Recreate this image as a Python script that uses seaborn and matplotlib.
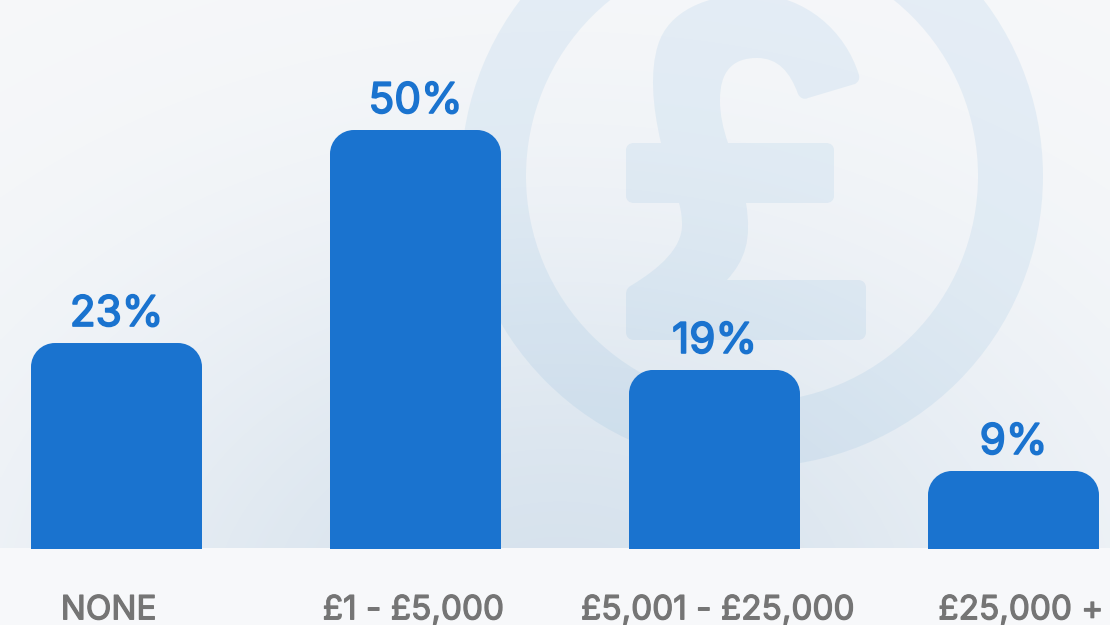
import numpy as np
import pandas as pd
import matplotlib
matplotlib.use("Agg")
import matplotlib.pyplot as plt
import matplotlib.patheffects as pe
from matplotlib.path import Path
from matplotlib.patches import PathPatch, Wedge
from matplotlib.transforms import IdentityTransform, Affine2D
import seaborn as sns

categories = ["NONE", "£1 - £5,000", "£5,001 - £25,000", "£25,000 +"]
percent_labels = ["23%", "50%", "19%", "9%"]
# bar heights as drawn in the picture (percent scale set by the 50% bar)
drawn_heights = [24.55, 50.0, 21.33, 9.26]

W, H = 1110, 625
BASE_Y = 548.5
TOP_Y = 130.0
BLUE = "#1a73cf"
GREY = "#757575"
PAGE = "#f7f8fa"

sns.set_theme(style="white")
plt.rcParams["font.family"] = ["Inter", "DejaVu Sans"]

fig = plt.figure(figsize=(W / 100, H / 100), dpi=100, facecolor=PAGE)

# background gradient above the baseline
bg = fig.add_axes([0, 0, 1, 1], zorder=0)
yy, xx = np.mgrid[0:BASE_Y:300j, 0:W:300j]
t = np.exp(-((xx - 560) / 520) ** 2 - ((yy - 620) / 380) ** 2)
c0 = np.array([0xf7, 0xf8, 0xfa]) / 255
c1 = np.array([0xd6, 0xe2, 0xed]) / 255
img = c0[None, None, :] + (c1 - c0)[None, None, :] * t[..., None]
bg.imshow(img, extent=[0, W, BASE_Y, 0], aspect="auto", interpolation="bilinear", zorder=0)
bg.set_xlim(0, W); bg.set_ylim(H, 0); bg.axis("off")

# watermark ring and pound sign
WM = "#1a7cc4"
A = 0.075
cx, cy, ro, ri = 752, 176, 291, 226
ring = Wedge((cx, cy), ro, 0, 360, width=ro - ri, fc=WM, ec="none", alpha=A, zorder=1)
bg.add_patch(ring)

M, L, C, Z = Path.MOVETO, Path.LINETO, Path.CURVE4, Path.CLOSEPOLY
pts = [
    (M, (661, 143)),
    (C, (652, 105)), (C, (650, 70)), (C, (658, 45)),
    (C, (668, 12)), (C, (705, -6)), (C, (755, -6)),
    (C, (805, -4)), (C, (845, 30)), (C, (859, 75)),
    (C, (860, 80)), (C, (858, 82)), (C, (855, 84)),
    (L, (808, 98)),
    (C, (804, 100)), (C, (800, 98)), (C, (798, 94)),
    (C, (790, 72)), (C, (778, 58)), (C, (757, 58)),
    (C, (732, 58)), (C, (720, 72)), (C, (720, 100)),
    (C, (720, 115)), (C, (723, 128)), (C, (728, 143)),
    (L, (826, 143)),
    (C, (831, 143)), (C, (834, 146)), (C, (834, 150)),
    (L, (834, 196)),
    (C, (834, 200)), (C, (831, 203)), (C, (826, 203)),
    (L, (746, 203)),
    (C, (752, 240)), (C, (745, 260)), (C, (727, 280)),
    (L, (858, 280)),
    (C, (863, 280)), (C, (866, 283)), (C, (866, 288)),
    (L, (866, 332)),
    (C, (866, 337)), (C, (863, 340)), (C, (858, 340)),
    (L, (634, 340)),
    (C, (629, 340)), (C, (626, 337)), (C, (626, 332)),
    (L, (626, 294)),
    (C, (626, 290)), (C, (628, 287)), (C, (632, 285)),
    (C, (660, 268)), (C, (682, 248)), (C, (682, 225)),
    (C, (682, 217)), (C, (681, 210)), (C, (679, 203)),
    (L, (634, 203)),
    (C, (629, 203)), (C, (626, 200)), (C, (626, 196)),
    (L, (626, 150)),
    (C, (626, 146)), (C, (629, 143)), (C, (634, 143)),
    (L, (661, 143)),
]
pound = PathPatch(Path([p[1] for p in pts], [p[0] for p in pts]),
                  fc=WM, ec="none", alpha=A, zorder=1)
bg.add_patch(pound)

# chart axes: spacing of 299 px between bar centres, baseline at y=548.5
ax = fig.add_axes([0, (H - BASE_Y) / H, 1, (BASE_Y - TOP_Y + 60) / H], zorder=2)
ax.patch.set_alpha(0)
df = pd.DataFrame({"category": categories, "value": drawn_heights})
sns.barplot(data=df, x="category", y="value", color=BLUE, saturation=1,
            width=171 / 299, linewidth=0, edgecolor="none", ax=ax)
for s in ax.spines.values():
    s.set_visible(False)
x0 = -116.5 / 299
ax.set_xlim(x0, x0 + W / 299)
ax.set_ylim(0, 50 * (BASE_Y - TOP_Y + 60) / (BASE_Y - TOP_Y))
ax.set_xlabel(""); ax.set_ylabel(""); ax.set_yticks([])
ax.set_xticks(range(len(categories)))
ax.set_xticklabels(categories, fontsize=24, color=GREY)
ax.tick_params(axis="x", length=0, pad=33)

# the reference's labels sit off their bar centres by these pixel amounts
label_shift_px = [-8, -2, 3.5, 7.5]
for lab, dx in zip(ax.get_xticklabels(), label_shift_px):
    lab.set_transform(lab.get_transform() + Affine2D().translate(dx, 0))
    lab.set_path_effects([pe.withStroke(linewidth=0.9, foreground=GREY)])

# round the top corners of each bar
fig.canvas.draw()
R = 24
for bar, lab in zip(ax.patches, percent_labels):
    (xa, ya), (xb, yb) = ax.transData.transform(
        [(bar.get_x(), 0), (bar.get_x() + bar.get_width(), bar.get_height())])
    k = 0.5523 * R
    clip = Path(
        [(xa, ya - 5), (xa, yb - R), (xa, yb - R + k), (xa + R - k, yb), (xa + R, yb),
         (xb - R, yb), (xb - R + k, yb), (xb, yb - R + k), (xb, yb - R), (xb, ya - 5), (xa, ya - 5)],
        [M, L, C, C, C, L, C, C, C, L, Z])
    bar.set_clip_path(clip, IdentityTransform())
    txt = ax.annotate(lab, (bar.get_x() + bar.get_width() / 2, bar.get_height()),
                      xytext=(0, 8), textcoords="offset pixels", ha="center", va="bottom",
                      fontsize=30.5, color=BLUE)
    txt.set_path_effects([pe.withStroke(linewidth=1.2, foreground=BLUE)])

fig.savefig("out.png", dpi=100, facecolor=PAGE)
